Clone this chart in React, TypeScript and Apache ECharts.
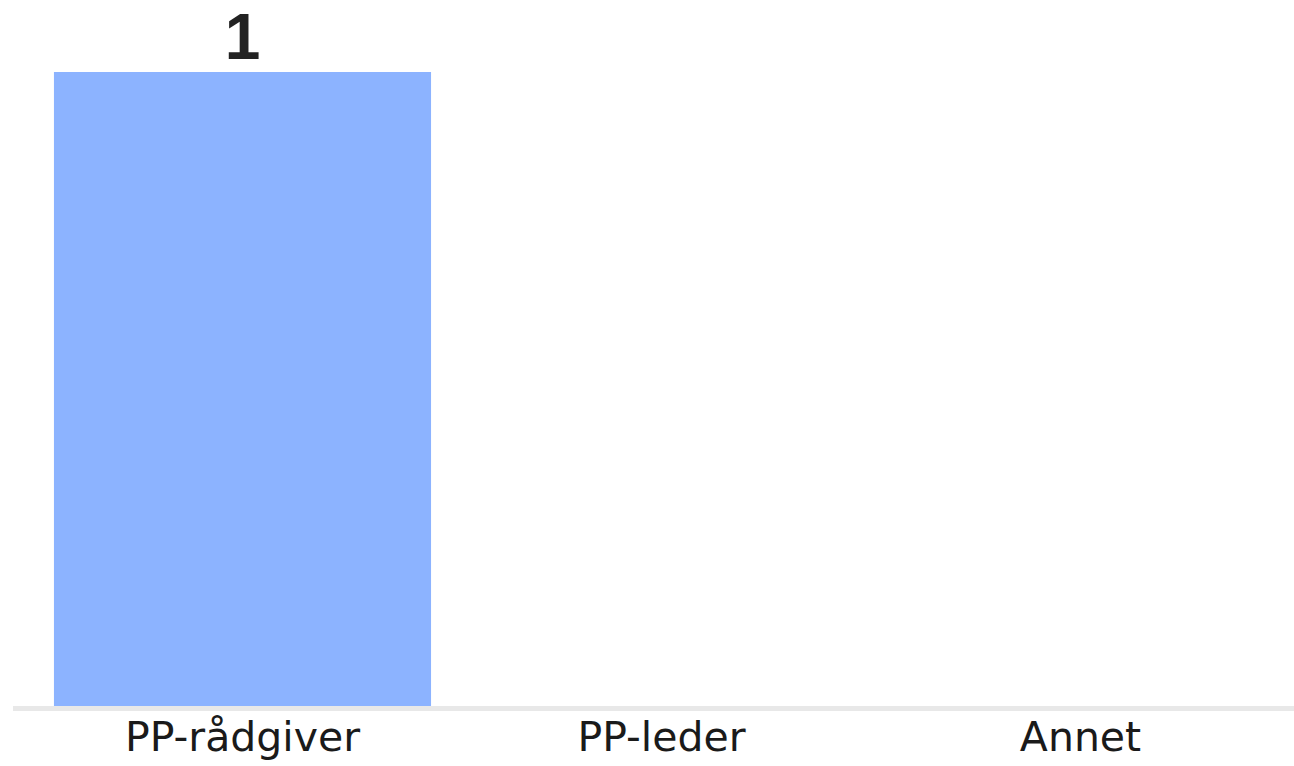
import React, { useEffect, useRef } from "react";
import * as echarts from "echarts";

const categories = ["PP-rådgiver", "PP-leder", "Annet"];
const values = [1, 0, 0];

export default function App() {
  const ref = useRef<HTMLDivElement>(null);
  useEffect(() => {
    document.body.style.margin = "0";
    const chart = echarts.init(ref.current!, undefined, { renderer: "svg" });
    chart.setOption({
      animation: false,
      backgroundColor: "#ffffff",
      grid: { left: 33, right: 4, top: 72, bottom: 60, containLabel: false },
      xAxis: {
        type: "category",
        data: categories,
        axisLine: { show: false },
        axisTick: { show: false },
        axisLabel: {
          color: "#1a1a1a",
          fontFamily: "DejaVu Sans",
          fontSize: 41,
          lineHeight: 44,
          margin: 9,
        },
      },
      yAxis: {
        type: "value",
        min: 0,
        max: 1,
        show: false,
        splitLine: { show: false },
      },
      graphic: [
        {
          type: "rect",
          shape: { x: 13, y: 706, width: 1281, height: 5 },
          style: { fill: "#e8e8e8" },
          z: 0,
        },
      ],
      series: [
        {
          type: "bar",
          data: values,
          barWidth: "90%",
          itemStyle: { color: "#8cb3ff" },
          z: 2,
          label: {
            show: true,
            position: "top",
            distance: 6,
            color: "#222222",
            fontFamily: "Liberation Sans Narrow, Liberation Sans",
            fontWeight: "bold",
            fontSize: 64,
            lineHeight: 58,
            formatter: (p: any) => (p.value > 0 ? String(p.value) : ""),
          },
        },
      ],
    });
    return () => chart.dispose();
  }, []);
  return <div ref={ref} style={{ position: "fixed", left: 0, top: 0, width: 1294, height: 766 }} />;
}
